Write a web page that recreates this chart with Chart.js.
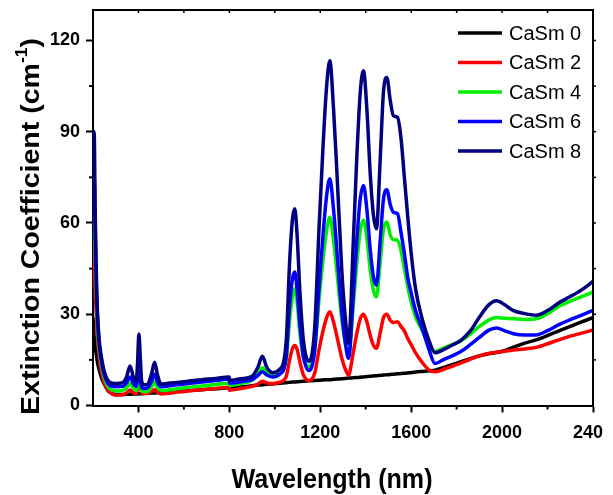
<!DOCTYPE html>
<html>
<head>
<meta charset="utf-8">
<script src="https://cdn.jsdelivr.net/npm/chart.js@4.4.1/dist/chart.umd.min.js"></script>
<style>
html,body{margin:0;padding:0;background:#fff;}
#wrap{width:613px;height:495px;position:relative;}
</style>
</head>
<body>
<div id="wrap"><canvas id="c" width="613" height="495"></canvas></div>
<script>
// ---- data ----
const wavelengths = [200,205,210,215,220,228,238,250,265,285,
300,330,348,363,378,390,396,402,408,414,425,440,458,471,484,500,530,570,620,680,740,799,
801,850,900,925,945,965,990,1020,1050,1065,1078,1088,1098,1110,1125,1150,1175,1195,1212,1228,1242,1258,1273,1295,1310,1324,1346,1361,1376,1390,1405,1420,1434,1447,1464,1478,1493,1508,1522,1540,1555,1570,1585,1600,1620,1650,1680,1705,
1740,1780,1820,1860,1900,1940,1975,2010,2050,2100,2150,2200,2250,2300,2350,2400];

const casm0 = [29,23,19,16.5,14,11.5,9,7,5,3.9,
3.6,3.6,3.7,3.7,3.8,3.8,3.8,3.9,3.9,3.9,4.0,4.0,4.1,4.1,4.2,4.2,4.4,4.6,4.9,5.2,5.5,5.8,
5.8,6.1,6.5,6.7,6.8,7.0,7.1,7.3,7.5,7.6,7.7,7.7,7.8,7.9,8.0,8.1,8.2,8.3,8.4,8.5,8.5,8.6,8.7,8.8,8.9,9.0,9.1,9.2,9.3,9.4,9.5,9.6,9.7,9.8,9.9,10.0,10.1,10.2,10.3,10.4,10.5,10.6,10.7,10.8,11.0,11.2,11.4,11.6,
12.4,13.4,14.4,15.4,16.3,17.0,17.4,18.0,19.2,20.5,21.6,23.0,24.5,26.0,27.5,28.9];

const casm2 = [55,48,37,29,22,15.5,11,7.5,5.2,3.8,
3.4,3.5,4.2,5.1,4.2,3.9,6.0,8.0,6.0,4.2,3.9,4.0,4.6,5.3,4.4,3.8,4.0,4.4,4.8,5.2,5.6,6.0,
5.0,5.6,6.3,7.0,8.0,7.4,7.2,7.6,9.5,15,18.8,19.7,18.5,14.5,10.2,8.2,10.5,18.5,24.5,28.9,30.8,27.5,22.8,15.5,12,10.0,17.8,23.8,28.5,30,27.5,23,19.8,18.8,24,28.9,30,28,27.3,27.5,26,24.5,22,20,17.2,14,11.6,11.1,
11.8,12.9,14,15.2,16.3,17.1,17.5,17.8,18.2,18.6,19.1,20.3,21.6,22.8,23.8,24.8];

const casm4 = [60,62,50,36,26,18,13,9,6.3,5.0,
4.8,4.9,5.8,7.3,5.6,4.9,7.0,9,7.0,4.8,4.5,4.6,6.2,7.8,5.8,4.9,5.1,5.5,6.0,6.4,6.9,7.3,
6.6,7.2,8.3,10.3,12.4,10.8,9.8,10.5,15,28,36,38.4,34,24,16,12.8,18,35,48,57.5,61.9,54.5,44,28,20.5,16.6,33.5,47,57.5,61,55,44.5,37.8,35.7,47.5,57.8,60.3,56,54.5,54.3,51,45,39,34,29,24.5,19.5,17.8,
18.8,20,21.3,23.5,26,28,28.9,28.7,28.5,28.3,28.5,30.2,32.6,34.3,35.8,37.3];

const casm6 = [72,75,56,39,28,19.5,14,10,7.3,6.3,
6.2,6.3,7.5,9.4,7.2,6.3,8.6,11,8.6,6.0,5.6,5.8,8,10.3,7.6,6.2,6.4,6.8,7.2,7.7,8.2,8.7,
7.3,7.8,8.5,9.8,11.1,10,9.4,10.2,16,33,41.8,43.9,38,27,16.5,11.5,18,39.5,56,69,74.5,64.8,51,30.5,20.8,15.5,37,54.5,68,72.3,64.5,51,42.3,39.5,54.5,67.8,70.9,66,63.5,63,57,50,42,37,31,25,18,13.8,
15,16.3,17.8,20,22.4,24.7,25.5,24.6,23.6,23.2,23.2,24.6,26.6,28.2,29.7,31.3];

const casm8 = [86,90,62,42,30,21,15.5,11,8.3,7.3,
7.2,7.5,9.5,13,9.3,7.8,14,23.5,16,8,6.8,7.0,10.5,14.2,10,7.0,7.3,7.6,8.0,8.5,8.9,9.4,
8.3,8.8,9.6,12.5,16.2,12.5,10.8,11.8,21,47,61.5,64.7,56,38,22,14.5,25,59,85,105,113.3,98,77,44,29,20.4,55,82,103,110,97.5,76,62.5,58.1,81.5,103,107.8,100.2,95.2,94.7,88,75,62,50,38,28,21,17.3,
18.3,19.8,21.5,24.5,29,33,34.4,33.2,31.2,30.2,29.7,31.2,33.8,35.8,38,40.8];

const seriesNames = ['CaSm 0','CaSm 2','CaSm 4','CaSm 6','CaSm 8'];
const seriesColors = ['#000000','#ff0000','#00ee00','#0000ff','#000080'];
const seriesValues = [casm0, casm2, casm4, casm6, casm8];

const xTicks = [400,800,1200,1600,2000,2400];
const xTickLabels = ['400','800','1200','1600','2000','240'];
const xMinorTicks = [600,1000,1400,1800,2200];
const yTicks = [0,30,60,90,120];
const yMinorTicks = [15,45,75,105];

const xTitle = 'Wavelength (nm)';
const yTitleMain = 'Extinction Coefficient (cm';
const yTitleSup = '-1';
const yTitleEnd = ')';

const FONT = '"Liberation Sans", Arial, Helvetica, sans-serif';
const TICK_FONT = 'bold 18px ' + FONT;

const datasets = seriesValues.map((vals, i) => ({
  label: seriesNames[i],
  data: wavelengths.map((w, j) => ({x: w, y: vals[j]})),
  borderColor: seriesColors[i],
  backgroundColor: seriesColors[i],
  borderWidth: 3.5,
  pointRadius: 0,
  cubicInterpolationMode: 'monotone',
  fill: false,
  order: 4 - i
}));

const lastX = xTicks[xTicks.length - 1];

const extras = {
  id: 'extras',
  afterDraw(chart) {
    const {ctx, chartArea: a, scales: {x, y}} = chart;
    ctx.save();
    ctx.strokeStyle = '#000';
    ctx.lineWidth = 2;
    const seg = (x1, y1, x2, y2) => { ctx.beginPath(); ctx.moveTo(x1, y1); ctx.lineTo(x2, y2); ctx.stroke(); };
    // top/right frame
    ctx.beginPath();
    ctx.moveTo(a.left - 1, a.top);
    ctx.lineTo(a.right, a.top);
    ctx.lineTo(a.right, a.bottom + 1);
    ctx.stroke();
    // minor ticks bottom/left
    xMinorTicks.forEach(v => { const p = x.getPixelForValue(v); seg(p, a.bottom, p, a.bottom + 4); });
    yMinorTicks.forEach(v => { const p = y.getPixelForValue(v); seg(a.left, p, a.left - 4, p); });
    // mirrored ticks top/right
    ctx.lineWidth = 1.5;
    xTicks.concat(xMinorTicks).forEach(v => { const p = x.getPixelForValue(v); if (p < a.right - 1) seg(p, a.top, p, a.top + 3); });
    yTicks.concat(yMinorTicks).forEach(v => { const p = y.getPixelForValue(v); if (p > a.top + 1 && p < a.bottom - 1) seg(a.right, p, a.right + 3, p); });

    // last x tick label (shown clipped in the original)
    ctx.fillStyle = '#000';
    ctx.font = TICK_FONT;
    ctx.textAlign = 'left';
    ctx.textBaseline = 'middle';
    const full = ctx.measureText(String(lastX)).width;
    ctx.fillText(xTickLabels[xTickLabels.length - 1], x.getPixelForValue(lastX) - full / 2, a.bottom + 7 + 10 + 10.8);

    // legend
    ctx.font = '20px ' + FONT;
    ctx.textAlign = 'left';
    ctx.textBaseline = 'middle';
    seriesNames.forEach((n, i) => {
      const cy = 33 + i * 29.5;
      ctx.strokeStyle = seriesColors[i];
      ctx.lineWidth = 3.5;
      seg(458, cy, 502, cy);
      ctx.fillText(n, 509, cy + 1);
    });

    // x title
    ctx.fillStyle = '#000';
    ctx.textBaseline = 'alphabetic';
    ctx.textAlign = 'center';
    ctx.font = 'bold 25px ' + FONT;
    const wx = ctx.measureText(xTitle).width;
    ctx.save();
    ctx.translate(332, 488);
    ctx.scale(201 / wx, 1.12);
    ctx.fillText(xTitle, 0, 0);
    ctx.restore();

    // y title (rotated)
    const F = 26;
    ctx.font = 'bold ' + F + 'px ' + FONT;
    const w1 = ctx.measureText(yTitleMain).width;
    const w3 = ctx.measureText(yTitleEnd).width;
    ctx.font = 'bold ' + Math.round(F * 0.6) + 'px ' + FONT;
    const w2 = ctx.measureText(yTitleSup).width;
    const total = w1 + w2 + w3;
    const s = 377 / total;
    ctx.save();
    ctx.translate(38.5, 226.5);
    ctx.rotate(-Math.PI / 2);
    ctx.scale(s, 1);
    ctx.textAlign = 'left';
    let cx = -total / 2;
    ctx.font = 'bold ' + F + 'px ' + FONT;
    ctx.fillText(yTitleMain, cx, 0);
    cx += w1;
    ctx.font = 'bold ' + Math.round(F * 0.6) + 'px ' + FONT;
    ctx.fillText(yTitleSup, cx, -F * 0.45);
    cx += w2;
    ctx.font = 'bold ' + F + 'px ' + FONT;
    ctx.fillText(yTitleEnd, cx, 0);
    ctx.restore();

    ctx.restore();
  }
};

new Chart(document.getElementById('c'), {
  type: 'line',
  data: { datasets },
  options: {
    responsive: false,
    animation: false,
    devicePixelRatio: 1,
    layout: { padding: { left: 0, top: 10, right: 20, bottom: 0 } },
    plugins: { legend: { display: false }, tooltip: { enabled: false }, title: { display: false } },
    scales: {
      x: {
        type: 'linear',
        min: 200, max: 2400,
        afterFit(scale) { scale.height = 89.5; scale.paddingLeft = 0; scale.paddingRight = 0; },
        afterBuildTicks(scale) { scale.ticks = xTicks.map(v => ({value: v})); },
        grid: { display: true, drawOnChartArea: false, drawTicks: true, tickLength: 7, tickWidth: 2, tickColor: '#000' },
        border: { display: true, color: '#000', width: 2 },
        ticks: {
          color: '#000', padding: 10, maxRotation: 0, autoSkip: false,
          font: { family: FONT, size: 18, weight: 'bold' },
          callback: (v) => { const i = xTicks.indexOf(v); return (i >= 0 && v !== lastX) ? xTickLabels[i] : ''; }
        }
      },
      y: {
        type: 'linear',
        min: 0, max: 130,
        afterFit(scale) { scale.width = 93; scale.paddingTop = 0; scale.paddingBottom = 0; },
        afterBuildTicks(scale) { scale.ticks = yTicks.map(v => ({value: v})); },
        grid: { display: true, drawOnChartArea: false, drawTicks: true, tickLength: 7, tickWidth: 2, tickColor: '#000' },
        border: { display: true, color: '#000', width: 2 },
        ticks: {
          color: '#000', padding: 6, autoSkip: false,
          font: { family: FONT, size: 18, weight: 'bold' },
          callback: (v) => String(v)
        }
      }
    }
  },
  plugins: [extras]
});
</script>
</body>
</html>
